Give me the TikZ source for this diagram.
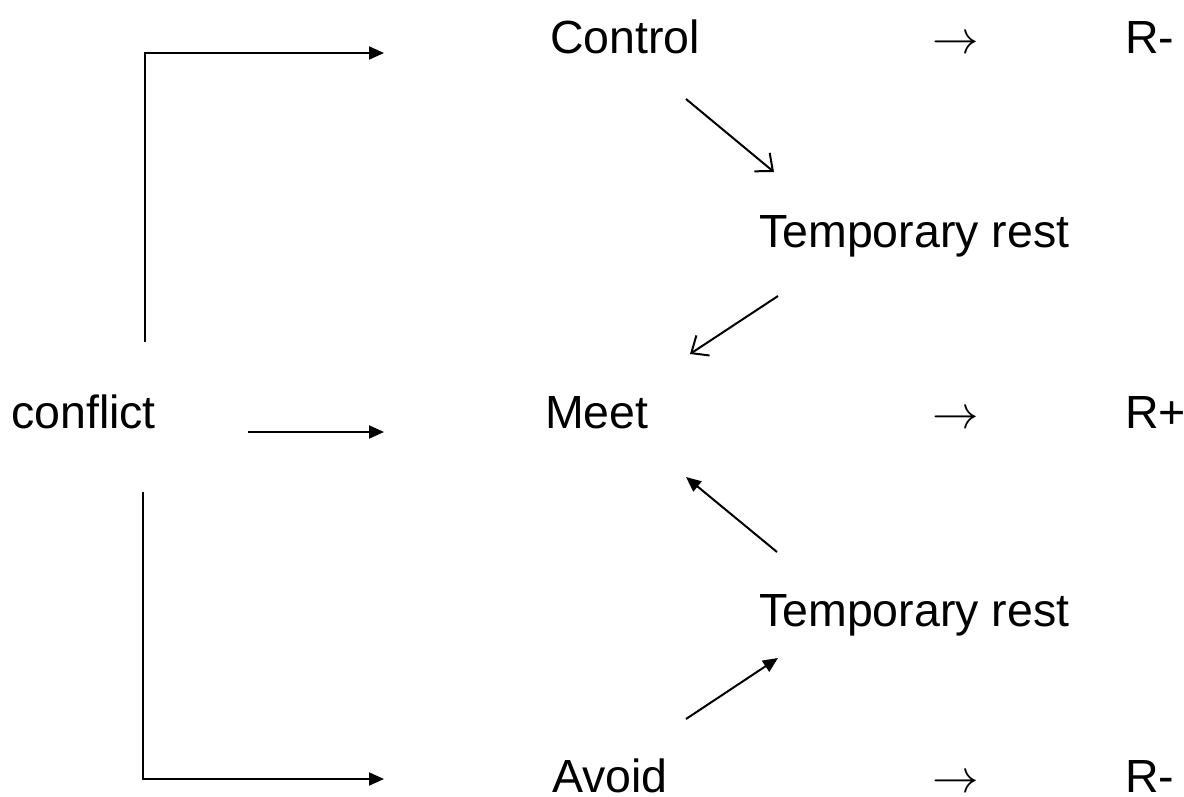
\RequirePackage{fix-cm}
\documentclass[tikz,border=0pt]{standalone}
\usepackage{fontspec}
\setmainfont{Liberation Sans}
\usetikzlibrary{arrows.meta}
\tikzset{
  lbl/.style={anchor=base west, inner sep=0pt, font=\fontsize{46.5}{55}\selectfont},
  link/.style={line width=2pt},
  solidhead/.style={link, -{Triangle[length=15pt, width=13pt]}},
  openhead/.style={link, -{Straight Barb[length=14pt, width=24pt, line width=2pt]}}
}
\begin{document}
\begin{tikzpicture}[x=1pt, y=-1pt]
  \useasboundingbox (0,0) rectangle (1184,796);

  % labels
  \node[lbl] (ctrl)  at (550,53)  {Control};
  \node[lbl] (ar1)   at (932,53)  {$\rightarrow$};
  \node[lbl] (rm1)   at (1125,53) {R-};
  \node[lbl] (tr1)   at (759,247) {Temporary rest};
  \node[lbl] (conf)  at (11,428)  {conflict};
  \node[lbl] (meet)  at (545,428) {Meet};
  \node[lbl] (ar2)   at (932,428) {$\rightarrow$};
  \node[lbl] (rp)    at (1125,428) {R+};
  \node[lbl] (tr2)   at (759,626) {Temporary rest};
  \node[lbl] (avoid) at (552,792) {Avoid};
  \node[lbl] (ar3)   at (932,792) {$\rightarrow$};
  \node[lbl] (rm2)   at (1125,792) {R-};

  % branch ends
  \coordinate (upstart)  at (145,342);
  \coordinate (uptip)    at (384,53);
  \coordinate (midstart) at (248,432);
  \coordinate (midtip)   at (384,432);
  \coordinate (dnstart)  at (143,492);
  \coordinate (dntip)    at (384,779);

  \draw[solidhead] (upstart) |- (uptip);
  \draw[solidhead] (midstart) -- (midtip);
  \draw[solidhead] (dnstart) |- (dntip);

  % rest loops
  \coordinate (a1) at (686,99);  \coordinate (b1) at (774,172);
  \coordinate (a2) at (778,296); \coordinate (b2) at (690,354);
  \coordinate (a3) at (777,552); \coordinate (b3) at (686,477);
  \coordinate (a4) at (686,719); \coordinate (b4) at (778,658);

  \draw[openhead]  (a1) -- (b1);
  \draw[openhead]  (a2) -- (b2);
  \draw[solidhead] (a3) -- (b3);
  \draw[solidhead] (a4) -- (b4);
\end{tikzpicture}
\end{document}
